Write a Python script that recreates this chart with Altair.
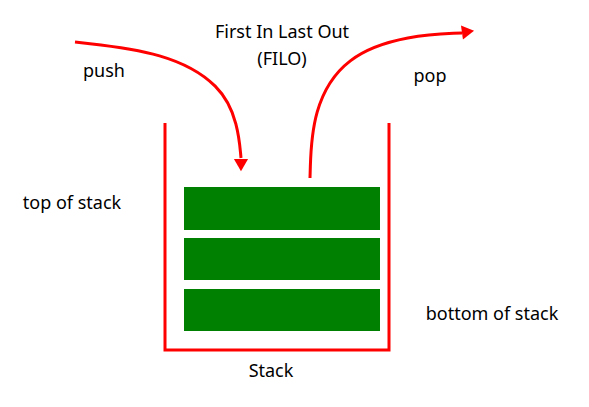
import altair as alt
import pandas as pd

# stack blocks (top, bottom in picture coords)
block_top = [187, 238, 289]
block_bottom = [230, 280, 331]
block_left = 184
block_right = 380

# container outline
box_x = [165, 165, 389, 389]
box_y = [123, 350, 350, 123]

# arrow paths (control points)
push_x = [75, 165, 222, 238, 241]
push_y = [42, 52, 85, 125, 158]
pop_x = [310, 312, 345, 410, 462]
pop_y = [178, 110, 55, 35, 33]

labels = ["First In Last Out", "(FILO)", "push", "pop", "top of stack", "bottom of stack", "Stack"]
label_x = [282, 282, 104, 430, 72, 492, 271]
label_y = [33, 60, 72, 77, 204, 315, 372]

X = alt.Scale(domain=[8, 581])
Y = alt.Scale(domain=[8, 399], reverse=True)

blocks = pd.DataFrame({"x": block_left, "x2": block_right, "y": block_top, "y2": block_bottom})
box = pd.DataFrame({"x": box_x, "y": box_y, "o": range(4)})
paths = pd.DataFrame({
    "x": push_x + pop_x,
    "y": push_y + pop_y,
    "o": list(range(5)) * 2,
    "p": ["push"] * 5 + ["pop"] * 5,
})
heads = pd.DataFrame({"x": [241, 466], "y": [163, 32], "a": [180, 82]})
text = pd.DataFrame({"t": labels, "x": label_x, "y": label_y})

rect = alt.Chart(blocks).mark_rect(color="#008000").encode(
    x=alt.X("x:Q", scale=X, axis=None), x2="x2",
    y=alt.Y("y:Q", scale=Y, axis=None), y2="y2",
)
outline = alt.Chart(box).mark_line(color="red", strokeWidth=3).encode(
    x=alt.X("x:Q", scale=X, axis=None), y=alt.Y("y:Q", scale=Y, axis=None), order="o:Q"
)
curves = alt.Chart(paths).mark_line(color="red", strokeWidth=3, interpolate="basis").encode(
    x=alt.X("x:Q", scale=X, axis=None), y=alt.Y("y:Q", scale=Y, axis=None),
    detail="p:N", order="o:Q",
)
arrows = alt.Chart(heads).mark_point(shape="triangle", filled=True, color="red", size=200, opacity=1).encode(
    x=alt.X("x:Q", scale=X, axis=None), y=alt.Y("y:Q", scale=Y, axis=None),
    angle=alt.Angle("a:Q", scale=None),
)
words = alt.Chart(text).mark_text(fontSize=18, font="Noto Sans", color="black").encode(
    x=alt.X("x:Q", scale=X, axis=None), y=alt.Y("y:Q", scale=Y, axis=None), text="t:N"
)

chart = alt.layer(rect, outline, curves, arrows, words).properties(
    width=573, height=391, padding=0, autosize="none"
).configure_view(stroke=None)

chart.save("out.html", embed_options={"renderer": "svg", "actions": False})
